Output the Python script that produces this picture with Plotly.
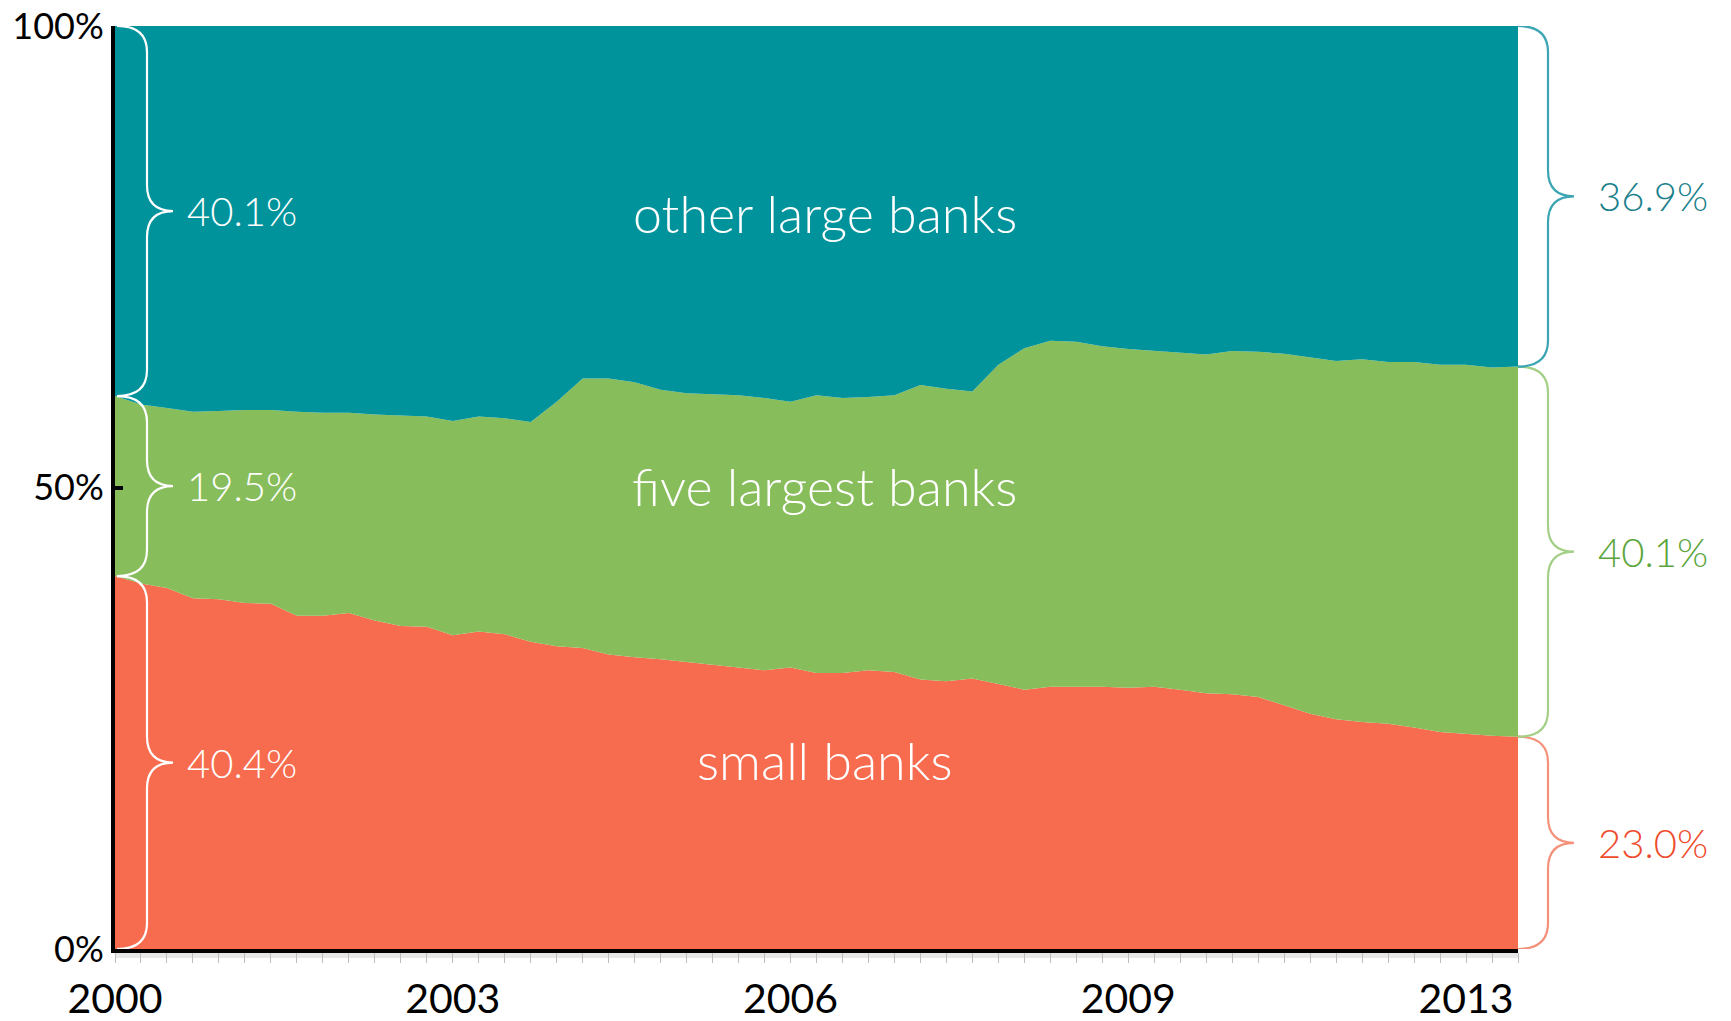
import plotly.graph_objects as go

# ---------------- data ----------------
quarters = [f"{y} Q{q}" for y in range(2000, 2014) for q in range(1, 5)][:55]

small_banks = [40.4, 39.6, 39.1, 38.0, 37.9, 37.5, 37.4, 36.1, 36.1, 36.4,
               35.6, 35.0, 34.9, 34.0, 34.4, 34.1, 33.3, 32.8, 32.6, 31.9,
               31.6, 31.4, 31.1, 30.8, 30.5, 30.2, 30.5, 29.9, 29.9, 30.2,
               30.0, 29.2, 29.0, 29.3, 28.7, 28.1, 28.4, 28.4, 28.4, 28.3,
               28.4, 28.1, 27.7, 27.6, 27.3, 26.4, 25.5, 24.9, 24.6, 24.4,
               24.0, 23.5, 23.3, 23.1, 23.0]

five_largest = [19.5, 19.4, 19.5, 20.2, 20.4, 20.9, 21.0, 22.1, 22.0, 21.7,
                22.3, 22.8, 22.8, 23.2, 23.3, 23.4, 23.8, 26.5, 29.2, 29.9,
                29.8, 29.2, 29.1, 29.3, 29.5, 29.5, 28.8, 30.1, 29.8, 29.6,
                30.0, 31.9, 31.7, 31.1, 34.6, 37.0, 37.5, 37.4, 36.9, 36.7,
                36.4, 36.5, 36.7, 37.2, 37.4, 38.1, 38.6, 38.8, 39.3, 39.2,
                39.6, 39.8, 40.0, 39.9, 40.1]

other_large = [40.1, 41.0, 41.4, 41.8, 41.7, 41.6, 41.6, 41.8, 41.9, 41.9,
               42.1, 42.2, 42.3, 42.8, 42.3, 42.5, 42.9, 40.7, 38.2, 38.2,
               38.6, 39.4, 39.8, 39.9, 40.0, 40.3, 40.7, 40.0, 40.3, 40.2,
               40.0, 38.9, 39.3, 39.6, 36.7, 34.9, 34.1, 34.2, 34.7, 35.0,
               35.2, 35.4, 35.6, 35.2, 35.3, 35.5, 35.9, 36.3, 36.1, 36.4,
               36.4, 36.7, 36.7, 37.0, 36.9]

series_names = ["small banks", "five largest banks", "other large banks"]
x_label_quarters = ["2000 Q1", "2003 Q2", "2006 Q3", "2009 Q4", "2013 Q1"]
x_label_text = ["2000", "2003", "2006", "2009", "2013"]
y_tick_vals = [0, 50, 100]
y_tick_text = ["0%", "50%", "100%"]

# ---------------- style ----------------
W, H = 1731, 1021
MARGIN = dict(l=115, r=213, t=26, b=72)
PW = W - MARGIN["l"] - MARGIN["r"]
PH = H - MARGIN["t"] - MARGIN["b"]

FILL = ["#f76c4f", "#87bd5b", "#01939b"]
RIGHT_TEXT = ["#ef4b2d", "#5ba53c", "#1b7f8b"]
RIGHT_BRACE = ["#f4917a", "#a3cf86", "#3ba5b3"]
FONT = "Lato"

fig = go.Figure()
for name, vals, col in zip(series_names, [small_banks, five_largest, other_large], FILL):
    fig.add_trace(go.Scatter(
        x=quarters, y=vals, name=name, mode="lines",
        stackgroup="one", groupnorm="percent",
        line=dict(width=0, color=col), fillcolor=col,
        hovertemplate="%{x}: %{y:.1f}%<extra>" + name + "</extra>",
    ))


def brace_path(lo, hi, xt):
    """Curly brace '}' from data value lo to hi, tip at paper x xt."""
    xa = xt + 30 / PW
    xc = xa + 26 / PW
    r = min(26 / PH * 100, (hi - lo) / 4)
    ym = (lo + hi) / 2
    return (f"M {xt},{hi} Q {xa},{hi} {xa},{hi - r} "
            f"L {xa},{ym + r} Q {xa},{ym} {xc},{ym} "
            f"Q {xa},{ym} {xa},{ym - r} "
            f"L {xa},{lo + r} Q {xa},{lo} {xt},{lo}")


shapes = []
annotations = []

# gray strip under the x axis
shapes.append(dict(type="rect", xref="paper", yref="paper", x0=0, x1=1,
                   y0=-9 / PH, y1=0, fillcolor="#e8e8e8", line=dict(width=0),
                   layer="below"))

first = [small_banks[0], five_largest[0], other_large[0]]
last = [small_banks[-1], five_largest[-1], other_large[-1]]

lo = 0.0
for v in first:
    hi = lo + v
    shapes.append(dict(type="path", xref="paper", yref="y",
                       path=brace_path(lo, hi, 2 / PW),
                       line=dict(color="white", width=2.2)))
    annotations.append(dict(x=70 / PW, y=(lo + hi) / 2, xref="paper", yref="y",
                            text=f"{v:.1f}%", showarrow=False, xanchor="left",
                            yanchor="middle",
                            font=dict(family=FONT, size=40, color="white", weight=300)))
    lo = hi

lo = 0.0
for v, tc, bc in zip(last, RIGHT_TEXT, RIGHT_BRACE):
    hi = lo + v
    shapes.append(dict(type="path", xref="paper", yref="y",
                       path=brace_path(lo, hi, 1.0),
                       line=dict(color=bc, width=2.2)))
    annotations.append(dict(x=1 + 78 / PW, y=(lo + hi) / 2, xref="paper", yref="y",
                            text=f"{v:.1f}%", showarrow=False, xanchor="left",
                            yanchor="middle",
                            font=dict(family=FONT, size=40, color=tc, weight=300)))
    lo = hi

for name, yv in zip(series_names, [20.5, 50.2, 79.7]):
    annotations.append(dict(x=0.506, y=yv, xref="paper", yref="y", text=name,
                            showarrow=False, xanchor="center", yanchor="middle",
                            font=dict(family=FONT, size=52, color="white", weight=300)))

x_ticktext = [x_label_text[x_label_quarters.index(q)] if q in x_label_quarters else ""
              for q in quarters]

fig.update_layout(
    width=W, height=H, margin=MARGIN,
    paper_bgcolor="white", plot_bgcolor="white",
    showlegend=False, shapes=shapes, annotations=annotations,
    font=dict(family=FONT, color="black"),
    xaxis=dict(type="category", range=[0, len(quarters) - 1], automargin=False,
               tickmode="array", tickvals=quarters, ticktext=x_ticktext,
               ticks="outside", ticklen=10, tickwidth=1.2, tickcolor="#bdbdbd",
               showline=True, linecolor="black", linewidth=4,
               showgrid=False, zeroline=False, ticklabelstandoff=1,
               ticklabeloverflow="allow",
               tickfont=dict(family=FONT, size=41, color="black")),
    yaxis=dict(range=[0, 100], tickmode="array", tickvals=y_tick_vals, automargin=False,
               ticktext=y_tick_text, ticks="inside", ticklen=8, tickwidth=4,
               tickcolor="black", showline=True, linecolor="black", linewidth=4,
               showgrid=False, zeroline=False, ticklabelstandoff=0,
               ticklabeloverflow="allow",
               tickfont=dict(family=FONT, size=36, color="black")),
)

fig.write_html("out.html", config={"displayModeBar": False},
               post_script="document.body.style.margin='0';")
